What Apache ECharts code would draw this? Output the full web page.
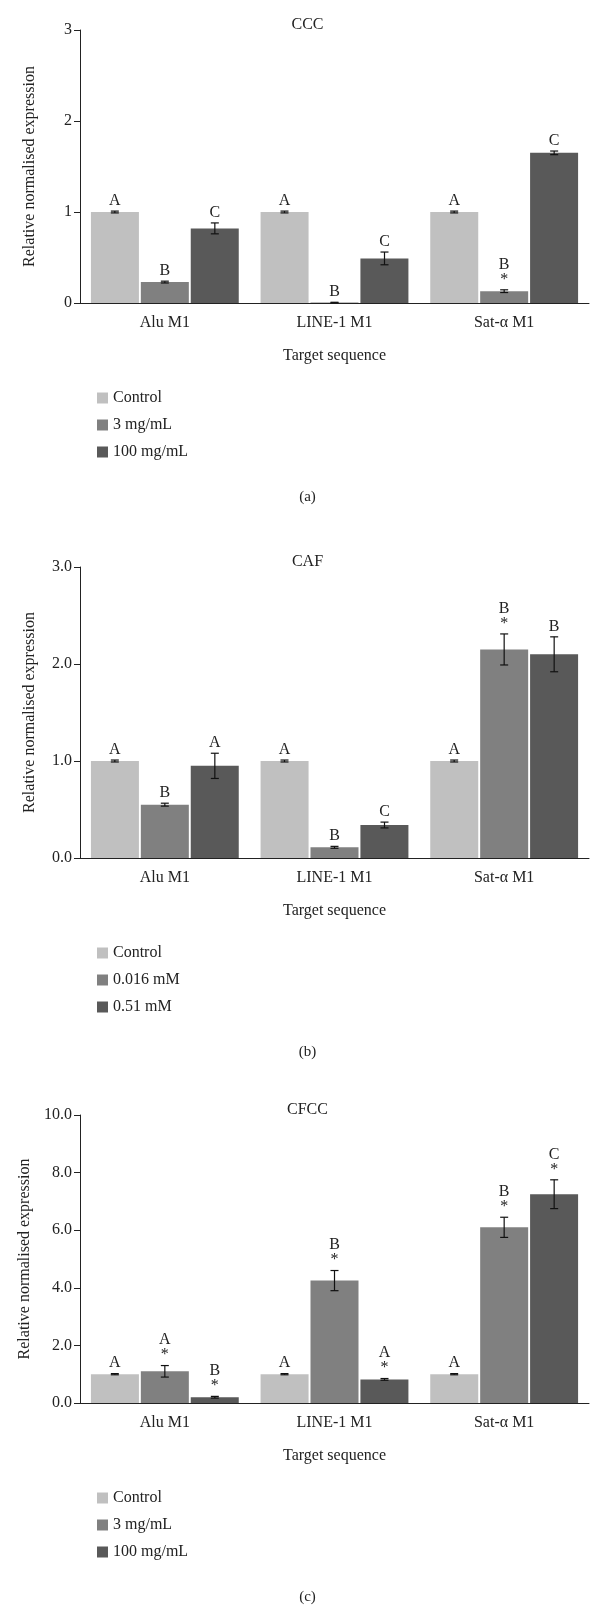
<!DOCTYPE html>
<html lang="en">
<head>
<meta charset="UTF-8">
<title>Relative normalised expression</title>
<script src="https://cdn.jsdelivr.net/npm/echarts@6.0.0/dist/echarts.min.js"></script>
<style>body{margin:0;background:#fff}#chart{width:615px;height:1616px}</style>
</head>
<body>
<div id="chart"></div>
<script>
var categories = ['Alu M1', 'LINE-1 M1', 'Sat-\u03b1 M1'];
var colors = ['#c0c0c0', '#808080', '#595959'];

// panel (a) CCC
var namesA = ['Control', '3 mg/mL', '100 mg/mL'];
var valuesA = [[1, 1, 1], [0.23, 0.005, 0.13], [0.82, 0.49, 1.65]];
var errorsA = [[0.01, 0.01, 0.01], [0.01, 0.003, 0.015], [0.06, 0.07, 0.02]];
var lettersA = [['A', 'A', 'A'], ['B', 'B', 'B\n*'], ['C', 'C', 'C']];
// panel (b) CAF
var namesB = ['Control', '0.016 mM', '0.51 mM'];
var valuesB = [[1, 1, 1], [0.55, 0.11, 2.15], [0.95, 0.34, 2.1]];
var errorsB = [[0.01, 0.01, 0.01], [0.015, 0.01, 0.16], [0.13, 0.03, 0.18]];
var lettersB = [['A', 'A', 'A'], ['B', 'B', 'B\n*'], ['A', 'C', 'B']];
// panel (c) CFCC
var namesC = ['Control', '3 mg/mL', '100 mg/mL'];
var valuesC = [[1, 1, 1], [1.1, 4.25, 6.1], [0.2, 0.82, 7.25]];
var errorsC = [[0.02, 0.02, 0.02], [0.2, 0.35, 0.35], [0.03, 0.03, 0.5]];
var lettersC = [['A', 'A', 'A'], ['A\n*', 'B\n*', 'B\n*'], ['B\n*', 'A\n*', 'C\n*']];

var font = 'Liberation Serif, DejaVu Serif, serif';
var chart = echarts.init(document.getElementById('chart'));

var panels = [
  {title: 'CCC', cap: '(a)', names: namesA, values: valuesA, errors: errorsA, letters: lettersA,
   top: 30, height: 273, max: 3, interval: 1, dec: 0},
  {title: 'CAF', cap: '(b)', names: namesB, values: valuesB, errors: errorsB, letters: lettersB,
   top: 567, height: 291, max: 3, interval: 1, dec: 1},
  {title: 'CFCC', cap: '(c)', names: namesC, values: valuesC, errors: errorsC, letters: lettersC,
   top: 1115, height: 288, max: 10, interval: 2, dec: 1}
];

var grid = [], xAxis = [], yAxis = [], series = [], legend = [], title = [];
panels.forEach(function (p, k) {
  grid.push({left: 80, right: 26, top: p.top, height: p.height});
  xAxis.push({
    type: 'category', gridIndex: k, data: categories,
    name: 'Target sequence', nameLocation: 'middle', nameGap: 45,
    nameTextStyle: {fontFamily: font, fontSize: 16, color: '#222'},
    axisLine: {lineStyle: {color: '#222'}},
    axisTick: {length: 6, alignWithLabel: false, lineStyle: {color: '#222'}},
    axisLabel: {fontFamily: font, fontSize: 16, color: '#222', margin: 12}
  });
  yAxis.push({
    type: 'value', gridIndex: k, min: 0, max: p.max, interval: p.interval,
    name: 'Relative normalised expression', nameLocation: 'middle', nameGap: 42,
    nameTextStyle: {fontFamily: font, fontSize: 16, color: '#222'},
    axisLine: {show: true, lineStyle: {color: '#222'}},
    axisTick: {show: true, length: 6, lineStyle: {color: '#222'}},
    splitLine: {show: false},
    axisLabel: {fontFamily: font, fontSize: 16, color: '#222',
      formatter: function (v) { return v.toFixed(p.dec); }}
  });
  title.push({text: p.title, left: 'center', top: p.top - 18,
    textStyle: {fontFamily: font, fontSize: 16, fontWeight: 'normal', color: '#222'}});
  title.push({text: p.cap, left: 'center', top: p.top + p.height + 182,
    textStyle: {fontFamily: font, fontSize: 15, fontWeight: 'normal', color: '#222'}});
  var legNames = [];
  p.names.forEach(function (n, i) {
    var id = 'p' + k + 's' + i;
    legNames.push({name: id, icon: 'rect'});
    series.push({
      type: 'bar', name: id, xAxisIndex: k, yAxisIndex: k,
      data: p.values[i], barWidth: 48, barGap: '4%',
      itemStyle: {color: colors[i]}
    });
  });
  legend.push({
    data: legNames, orient: 'vertical', left: 92, top: p.top + p.height + 82,
    itemWidth: 11, itemHeight: 11, itemGap: 11,
    formatter: (function (names) { return function (id) { return names[+id.split('s')[1]]; }; })(p.names),
    textStyle: {fontFamily: font, fontSize: 16, color: '#222'}
  });
  // error bars and letters
  var errData = [];
  for (var i = 0; i < 3; i++) for (var c = 0; c < 3; c++)
    errData.push([c, p.values[i][c], p.errors[i][c], i, p.letters[i][c]]);
  series.push({
    type: 'custom', xAxisIndex: k, yAxisIndex: k, z: 10, data: errData,
    renderItem: function (params, api) {
      var c = api.value(0), v = api.value(1), e = api.value(2), i = api.value(3);
      var letter = errData[params.dataIndex][4];
      var base = api.coord([c, v]);
      var x = base[0] + (i - 1) * 50;
      var hi = api.coord([c, v + e])[1], lo = api.coord([c, v - e])[1];
      var st = {stroke: '#111', lineWidth: 1.2};
      return {type: 'group', children: [
        {type: 'line', shape: {x1: x, y1: hi, x2: x, y2: lo}, style: st},
        {type: 'line', shape: {x1: x - 4, y1: hi, x2: x + 4, y2: hi}, style: st},
        {type: 'line', shape: {x1: x - 4, y1: lo, x2: x + 4, y2: lo}, style: st},
        {type: 'text', x: x, y: hi - 3, style: {text: letter, align: 'center', verticalAlign: 'bottom',
          font: '16px ' + font, fill: '#222', lineHeight: 15}}
      ]};
    }
  });
});

chart.setOption({
  animation: false, title: title, grid: grid, xAxis: xAxis, yAxis: yAxis,
  legend: legend, series: series
});
</script>
</body>
</html>
